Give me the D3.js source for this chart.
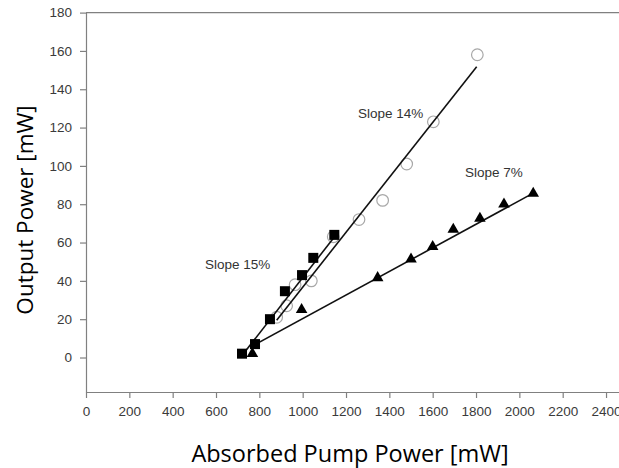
<!DOCTYPE html>
<html>
<head>
<meta charset="utf-8">
<script src="https://cdn.jsdelivr.net/npm/d3@7"></script>
<style>
  html, body { margin: 0; padding: 0; background: #fff; }
  svg { display: block; }
</style>
</head>
<body>
<svg id="chart" width="619" height="468"></svg>
<script>
// Measured output power vs absorbed pump power for three configurations
const squarePumpPower = [720, 780, 849, 918, 997, 1049, 1146];
const squareOutput    = [2, 7, 20, 34.6, 43, 52, 64];

const circlePumpPower = [880, 926, 965, 1040, 1141, 1260, 1369, 1480, 1603, 1806];
const circleOutput    = [21, 27, 38, 40, 63, 72, 82, 101, 123, 158];

const trianglePumpPower = [768, 995, 1346, 1500, 1600, 1695, 1818, 1929, 2064];
const triangleOutput    = [2, 25, 41.6, 51.3, 57.8, 66.8, 72.6, 80, 85.6];

// Linear fit endpoints (pump power, output power)
const fit15 = [[720, 1], [1157, 64.5]];
const fit14 = [[880, 19.5], [1803, 151.7]];
const fit7  = [[760, 5.5], [2064, 85.8]];

// Slope annotations: [label, pump power, output power]
const slopeLabels = [
  ["Slope 14%", 1255, 125],
  ["Slope 7%", 1749, 94],
  ["Slope 15%", 549, 46]
];

const xTicks = [0, 200, 400, 600, 800, 1000, 1200, 1400, 1600, 1800, 2000, 2200, 2400];
const yTicks = [0, 20, 40, 60, 80, 100, 120, 140, 160, 180];

const svg = d3.select("#chart");

const x = d3.scaleLinear().domain([0, 2500]).range([86, 627.7]);
const y = d3.scaleLinear().domain([-18, 180]).range([392, 12.6]);

const axisColor = "#808080";
const tickFont = "'Liberation Sans', Arial, sans-serif";

// Top frame line
svg.append("line")
  .attr("x1", x(0)).attr("x2", x(2500))
  .attr("y1", y(180)).attr("y2", y(180))
  .attr("stroke", axisColor).attr("stroke-width", 1.2);

// X axis
const gx = svg.append("g")
  .attr("transform", `translate(0,${y(-18)})`)
  .call(d3.axisBottom(x).tickValues(xTicks).tickFormat(d3.format("d"))
    .tickSize(6).tickSizeOuter(0).tickPadding(8));

// Y axis
const gy = svg.append("g")
  .attr("transform", `translate(${x(0)},0)`)
  .call(d3.axisLeft(y).tickValues(yTicks).tickFormat(d3.format("d"))
    .tickSize(6).tickSizeOuter(0).tickPadding(8));

[gx, gy].forEach(g => {
  g.select(".domain").attr("stroke", axisColor).attr("stroke-width", 1.2);
  g.selectAll(".tick line").attr("stroke", axisColor).attr("stroke-width", 1.2);
  g.selectAll(".tick text")
    .attr("fill", "#3a3a3a")
    .style("font-family", tickFont)
    .style("font-size", "13.5px");
});

// Open circles (drawn beneath the fit lines)
svg.append("g").selectAll("circle")
  .data(d3.zip(circlePumpPower, circleOutput))
  .join("circle")
  .attr("cx", d => x(d[0]))
  .attr("cy", d => y(d[1]))
  .attr("r", 5.8)
  .attr("fill", "none")
  .attr("stroke", "#a8a8a8")
  .attr("stroke-width", 1.2);

// Fit lines
const line = d3.line().x(d => x(d[0])).y(d => y(d[1]));
svg.append("g").selectAll("path")
  .data([fit15, fit14, fit7])
  .join("path")
  .attr("d", line)
  .attr("fill", "none")
  .attr("stroke", "#111")
  .attr("stroke-width", 1.6);

// Filled squares
const sq = 10;
svg.append("g").selectAll("rect")
  .data(d3.zip(squarePumpPower, squareOutput))
  .join("rect")
  .attr("x", d => x(d[0]) - sq / 2)
  .attr("y", d => y(d[1]) - sq / 2)
  .attr("width", sq).attr("height", sq)
  .attr("fill", "#000");

// Filled triangles
const tri = d3.symbol().type(d3.symbolTriangle).size(58);
svg.append("g").selectAll("path")
  .data(d3.zip(trianglePumpPower, triangleOutput))
  .join("path")
  .attr("d", tri)
  .attr("transform", d => `translate(${x(d[0])},${y(d[1])})`)
  .attr("fill", "#000");

// Slope annotations
svg.append("g").selectAll("text")
  .data(slopeLabels)
  .join("text")
  .attr("x", d => x(d[1]))
  .attr("y", d => y(d[2]))
  .attr("fill", "#333")
  .style("font-family", tickFont)
  .style("font-size", "13.5px")
  .text(d => d[0]);

// Axis titles
const titleFont = "'Open Sans', 'Noto Sans', sans-serif";
svg.append("text")
  .attr("x", 350).attr("y", 462)
  .attr("text-anchor", "middle")
  .attr("fill", "#000")
  .style("font-family", titleFont)
  .style("font-size", "23.5px")
  .text("Absorbed Pump Power [mW]");

svg.append("text")
  .attr("transform", "translate(33,210) rotate(-90)")
  .attr("text-anchor", "middle")
  .attr("fill", "#000")
  .style("font-family", titleFont)
  .style("font-size", "22.5px")
  .text("Output Power [mW]");
</script>
</body>
</html>
